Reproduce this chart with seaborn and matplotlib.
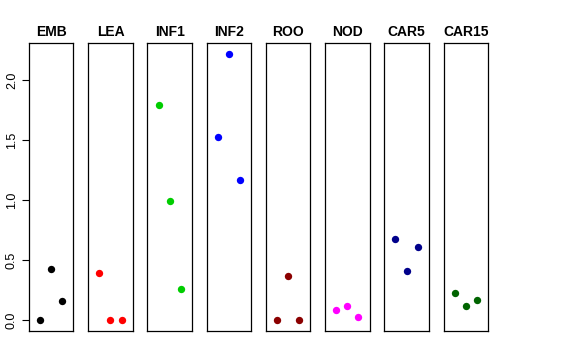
import seaborn as sns
import matplotlib.pyplot as plt
import pandas as pd

sns.set_theme(style='white')
plt.rcParams['font.family'] = ['Liberation Sans', 'DejaVu Sans']
plt.rcParams['text.color'] = 'black'
plt.rcParams['ytick.color'] = 'black'
plt.rcParams['axes.titlecolor'] = 'black'

# tissues and their three replicate values
tissues = ['EMB', 'LEA', 'INF1', 'INF2', 'ROO', 'NOD', 'CAR5', 'CAR15']
rep1 = [0.00, 0.39, 1.79, 1.53, 0.00, 0.09, 0.68, 0.23]
rep2 = [0.43, 0.00, 0.99, 2.22, 0.37, 0.12, 0.41, 0.12]
rep3 = [0.16, 0.00, 0.26, 1.17, 0.00, 0.03, 0.61, 0.17]
colours = ['black', 'red', '#00CD00', 'blue', '#8B0000', 'magenta', '#00008B', '#006400']

rows = []
for i, t in enumerate(tissues):
    for rep, vals in zip([1, 2, 3], [rep1, rep2, rep3]):
        rows.append({'Tissue': t, 'Rep': rep, 'Value': vals[i]})
df = pd.DataFrame(rows)

fig, axes = plt.subplots(1, len(tissues), figsize=(5.76, 3.6), dpi=100, sharey=True)
fig.subplots_adjust(left=29/576, right=488/576, bottom=1-331/360, top=1-43/360, wspace=0.333)

ymax = df['Value'].max()
pad = 0.04 * ymax

for ax, t, c in zip(axes, tissues, colours):
    sub = df[df['Tissue'] == t]
    sns.scatterplot(data=sub, x='Rep', y='Value', color=c, s=28, linewidth=0, ax=ax)
    ax.set_xlim(0, 4)
    ax.set_ylim(-pad, ymax + pad)
    ax.set_xticks([])
    ax.set_xlabel('')
    ax.set_ylabel('')
    ax.set_title(t, fontsize=10, fontweight='bold', pad=5, color='black')
    for s in ax.spines.values():
        s.set_color('black')
        s.set_linewidth(0.9)
    ax.tick_params(left=False, labelleft=False)

ax0 = axes[0]
ax0.set_yticks([0.0, 0.5, 1.0, 1.5, 2.0])
ax0.set_yticklabels(['0.0', '0.5', '1.0', '1.5', '2.0'], rotation=90, va='center', fontsize=9)
ax0.tick_params(left=True, labelleft=True, length=5, width=0.8, color='black',
                labelcolor='black', pad=3)

fig.savefig('out.png', dpi=100)
